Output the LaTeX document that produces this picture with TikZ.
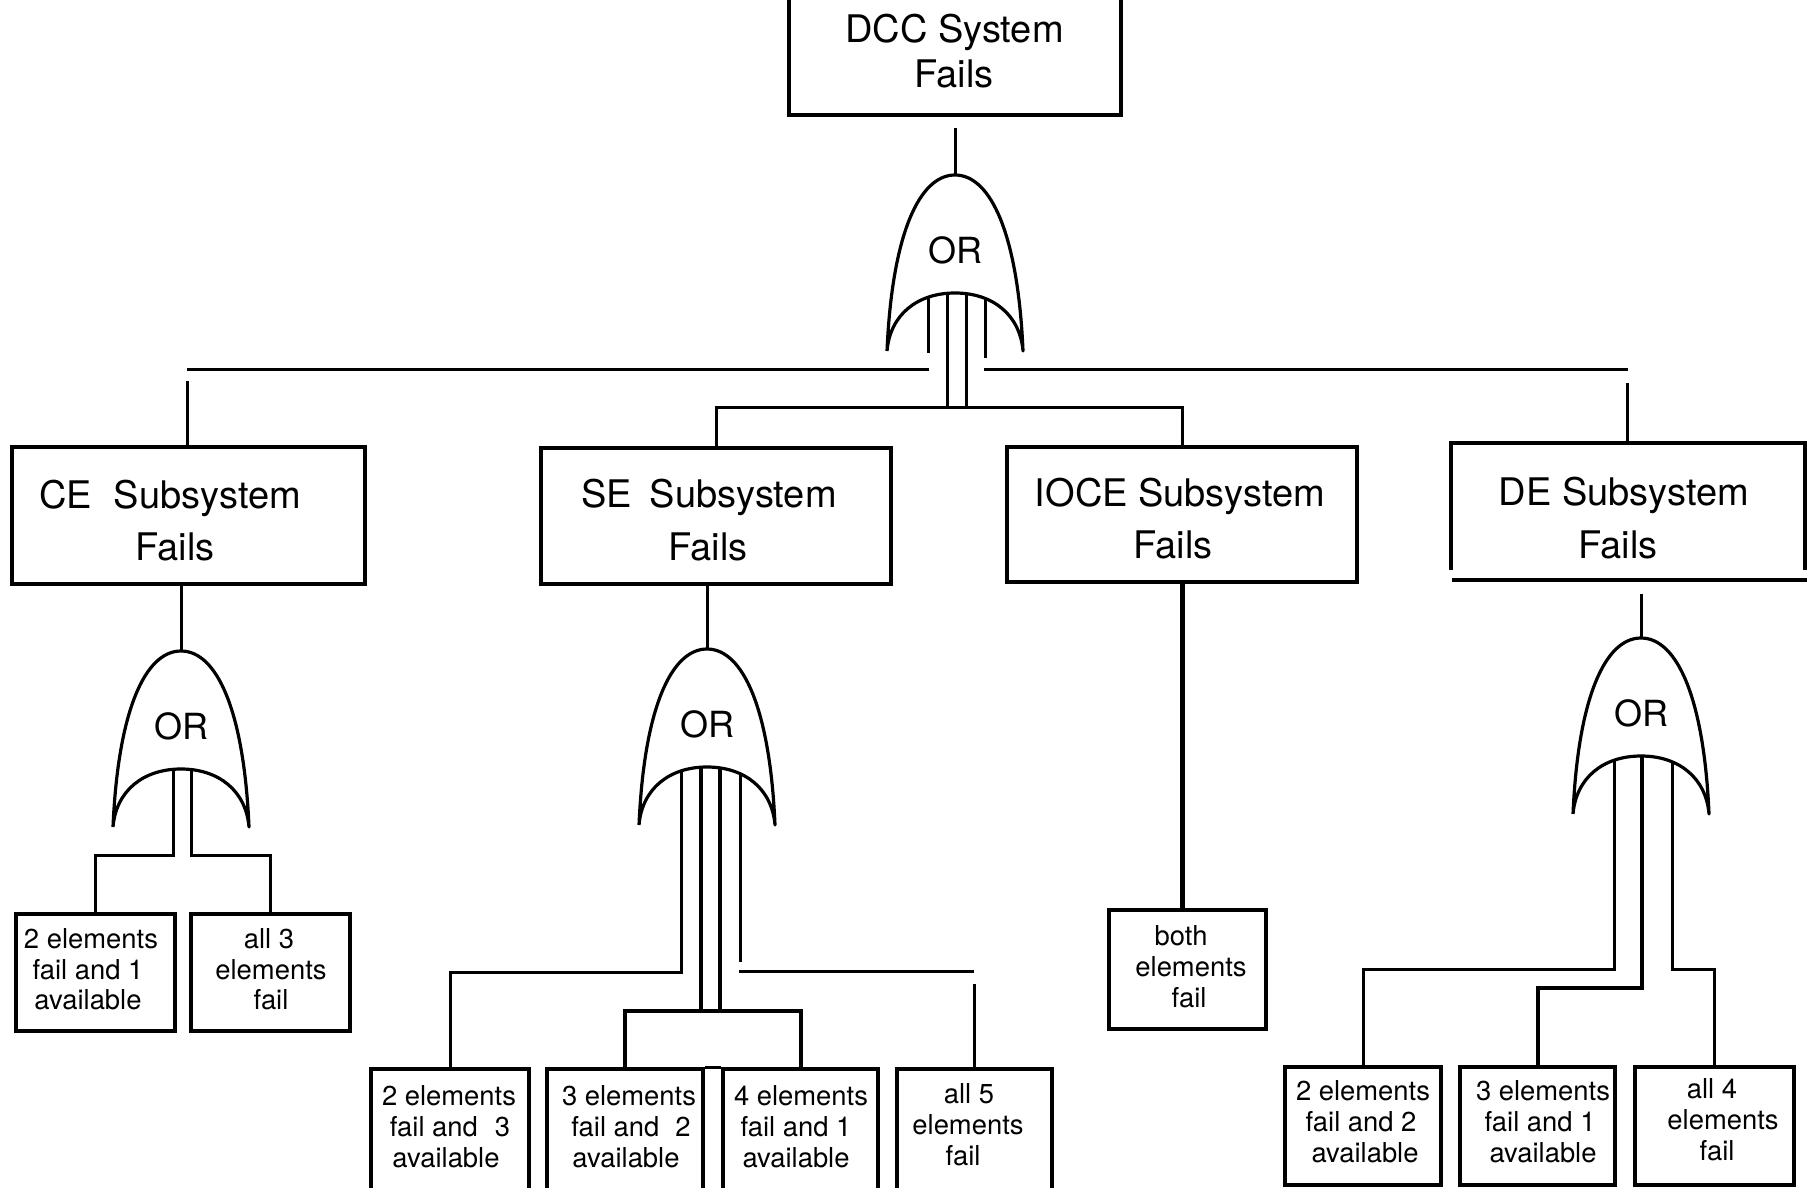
\documentclass[tikz,border=0pt]{standalone}
\usepackage{fontspec}
\setmainfont{TeX Gyre Heros}
\usetikzlibrary{calc}
\tikzset{
  box/.style={draw, line width=2pt, inner sep=0pt},
  txt/.style={inner sep=0pt, anchor=base},
  big/.style={font=\fontsize{19}{22}\selectfont},
  gatefont/.style={font=\fontsize{18}{21}\selectfont},
  small/.style={font=\fontsize{13.7}{16}\selectfont},
  orgate/.pic={
    \filldraw[fill=white, line width=1.6pt, line join=round]
      (-68,176) .. controls (-63,60) and (-36,0) .. (0,0)
      .. controls (36,0) and (63,60) .. (68,176)
      .. controls (65,140) and (38,118) .. (0,118)
      .. controls (-38,118) and (-65,140) .. (-68,176);
    \coordinate (-top) at (0,0);
    \node[gatefont, inner sep=0pt] (-or) at (0,75) {OR};
  }
}
\begin{document}
\begin{tikzpicture}[x=0.5pt, y=-0.5pt, line width=1.5pt]
\fill[white] (0,0) rectangle (1807,1187);
\useasboundingbox (0,0) rectangle (1807,1187);

% ---------- boxes ----------
\node[box, minimum width=166pt, minimum height=65pt] (dcc) at (955,50) {};
\node[box, minimum width=176.5pt, minimum height=68.5pt] (ce) at (188.5,515.5) {};
\node[box, minimum width=175pt, minimum height=68pt] (se) at (716,516) {};
\node[box, minimum width=175pt, minimum height=67.5pt] (ioce) at (1182,514.5) {};
\node[inner sep=0pt, minimum width=175.5pt, minimum height=62pt] (de) at (1627.5,506) {};
\draw[line width=2pt] (de.south west) -- (de.north west) -- (de.north east) -- (de.south east);
\coordinate (debl) at (1452,580);
\coordinate (debr) at (1812,580);
\draw[line width=2pt] (debl) -- (debr);

\node[box, minimum width=79.5pt, minimum height=58.5pt] (c1) at (95.5,972.5) {};
\node[box, minimum width=79.5pt, minimum height=58.5pt] (c2) at (270.5,972.5) {};

\node[box, minimum width=79pt, minimum height=68pt] (s1) at (450,1137) {};
\node[box, minimum width=78pt, minimum height=68pt] (s2) at (625,1137) {};
\node[box, minimum width=77.5pt, minimum height=68pt] (s3) at (800.5,1137) {};
\node[box, minimum width=77.5pt, minimum height=68pt] (s4) at (974.5,1137) {};
\draw[line width=1.5pt] (s2.north east) -- (s3.north west);

\node[box, minimum width=78.5pt, minimum height=59.5pt] (i1) at (1187.5,969.5) {};

\node[box, minimum width=78pt, minimum height=59pt] (d1) at (1363,1126) {};
\node[box, minimum width=77.5pt, minimum height=59pt] (d2) at (1537.5,1126) {};
\node[box, minimum width=79.5pt, minimum height=59pt] (d3) at (1714.5,1126) {};

% ---------- texts ----------
\node[txt, big] (t0a) at (954.5,43) {DCC System};
\node[txt, big] (t0b) at (954,88) {Fails};
\node[txt, big] (tcea) at (170,508) {CE\hspace{11pt}Subsystem};
\node[txt, big] (tceb) at (175,560) {Fails};
\node[txt, big] (tsea) at (709,507) {SE\hspace{9pt}Subsystem};
\node[txt, big] (tseb) at (708,560) {Fails};
\node[txt, big] (tioa) at (1180,506) {IOCE Subsystem};
\node[txt, big] (tiob) at (1173,558) {Fails};
\node[txt, big] (tdea) at (1624,505) {DE Subsystem};
\node[txt, big] (tdeb) at (1618,558) {Fails};

\node[txt, small] (c1a) at (91,948) {2 elements};
\node[txt, small] (c1b) at (88,979) {fail and 1};
\node[txt, small] (c1c) at (88,1009) {available};
\node[txt, small] (c2a) at (269,948) {all 3};
\node[txt, small] (c2b) at (271,979) {elements};
\node[txt, small] (c2c) at (271,1009) {fail};

\node[txt, small] (s1a) at (449,1105) {2 elements};
\node[txt, small] (s1b) at (450,1136) {fail and\hspace{8.5pt}3};
\node[txt, small] (s1c) at (446,1167) {available};
\node[txt, small] (s2a) at (629,1105) {3 elements};
\node[txt, small] (s2b) at (631,1136) {fail and\hspace{8pt}2};
\node[txt, small] (s2c) at (626,1167) {available};
\node[txt, small] (s3a) at (801,1105) {4 elements};
\node[txt, small] (s3b) at (796,1136) {fail and 1};
\node[txt, small] (s3c) at (796,1167) {available};
\node[txt, small] (s4a) at (969,1103) {all 5};
\node[txt, small] (s4b) at (968,1134) {elements};
\node[txt, small] (s4c) at (963,1165) {fail};

\node[txt, small] (i1a) at (1181,945) {both};
\node[txt, small] (i1b) at (1191,976) {elements};
\node[txt, small] (i1c) at (1189,1007) {fail};

\node[txt, small] (d1a) at (1363,1100) {2 elements};
\node[txt, small] (d1b) at (1361,1131) {fail and 2};
\node[txt, small] (d1c) at (1365,1162) {available};
\node[txt, small] (d2a) at (1543,1100) {3 elements};
\node[txt, small] (d2b) at (1540,1131) {fail and 1};
\node[txt, small] (d2c) at (1543,1162) {available};
\node[txt, small] (d3a) at (1712,1098) {all 4};
\node[txt, small] (d3b) at (1723,1129) {elements};
\node[txt, small] (d3c) at (1717,1160) {fail};

% ---------- connectors (drawn before gates) ----------
% top level
\coordinate (g0pos) at (955,175);
\draw (928,280) -- (928,353);
\draw (985,280) -- (985,358);
\draw (947,280) -- (947,409);
\draw (966,280) -- (966,409);
\coordinate (hl1) at (929,369);
\coordinate (hl2) at (187,369);
\draw (hl1) -- (hl2);
\draw ($(ce.north)+(-1.5,-64)$) -- ($(ce.north)+(-1.5,0)$);
\coordinate (hr1) at (984,369);
\coordinate (hr2) at (1628,369);
\draw (hr1) -- (hr2);
\draw ($(de.north)+(0,-60)$) -- (de.north);
\draw (se.north) -- ++(0,-39) -| (ioce.north);

% CE
\coordinate (gcepos) at (181,651);
\draw (173,760) -- (173,855) -| (c1.north);
\draw (191,760) -- (191,855) -| (c2.north);

% SE
\coordinate (gsepos) at (707,649);
\draw (681,760) -- (681,972) -| (s1.north);
\draw[line width=2pt] (701,760) -- (701,1011);
\draw[line width=2pt] (720,760) -- (720,1011);
\draw[line width=2pt] (s2.north) -- (s2.north |- 0,1011) -- (s3.north |- 0,1011) -- (s3.north);
\draw (740,760) -- (740,962);
\coordinate (sh1) at (739,971);
\coordinate (sh2) at (974,971);
\draw (sh1) -- (sh2);
\draw (s4.north |- 0,984) -- (s4.north);

% IOCE
\draw[line width=2.5pt] (ioce.south) -- (ioce.south |- i1.north);

% DE
\coordinate (gdepos) at (1641,638);
\draw (1614,750) -- (1614,969) -| (d1.north);
\draw[line width=2pt] (1642,750) -- (1642,988) -| (d2.north);
\draw (1672,750) -- (1672,969) -| (d3.north);

% ---------- gates ----------
\pic (g0) at (g0pos) {orgate};
\pic (gce) at (gcepos) {orgate};
\pic (gse) at (gsepos) {orgate};
\pic (gde) at (gdepos) {orgate};

\draw (dcc.south |- 0,128) -- (g0-top);
\draw (ce.south -| gce-top) -- (gce-top);
\draw (se.south -| gse-top) -- (gse-top);
\draw (gde-top |- 0,594) -- (gde-top);
\end{tikzpicture}
\end{document}
